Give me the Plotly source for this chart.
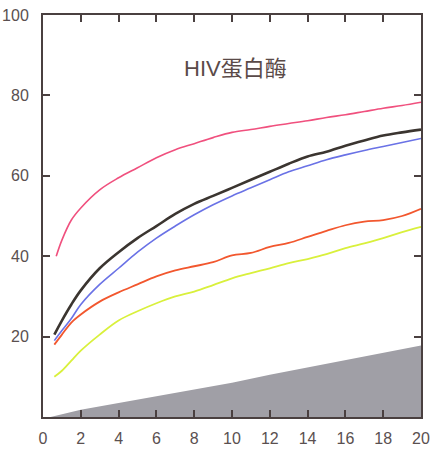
import plotly.graph_objects as go

# Data
x_pink = [0.7, 1, 1.5, 2, 3, 4, 5, 6, 7, 8, 9, 10, 11, 12, 13, 14, 15, 16, 17, 18, 19, 20]
y_pink = [40, 44, 49, 52, 56.5, 59.5, 62, 64.5, 66.5, 68, 69.5, 70.8, 71.5, 72.3, 73, 73.7, 74.5, 75.2, 76, 76.8, 77.5, 78.3]

x_common = [0.6, 1, 1.5, 2, 3, 4, 5, 6, 7, 8, 9, 10, 11, 12, 13, 14, 15, 16, 17, 18, 19, 20]
y_black = [20.5, 24, 28, 31.5, 37, 41, 44.5, 47.5, 50.5, 53, 55, 57, 59, 61, 63, 64.8, 66, 67.5, 68.8, 70, 70.8, 71.5]
y_blue = [19, 21.5, 24.5, 28, 33, 37, 41, 44.5, 47.5, 50.3, 52.8, 55, 57, 59, 61, 62.5, 64, 65.2, 66.3, 67.3, 68.3, 69.3]
y_orange = [18, 20.5, 23.5, 25.5, 28.7, 31, 33, 35, 36.5, 37.5, 38.5, 40.2, 40.8, 42.3, 43.3, 44.8, 46.3, 47.7, 48.6, 49, 50, 51.8]
y_yellow = [10, 11.5, 14, 16.5, 20.5, 24, 26.3, 28.3, 30, 31.2, 32.8, 34.5, 35.8, 37, 38.3, 39.3, 40.5, 42, 43.2, 44.5, 46, 47.3]

x_wedge = [0.4, 2, 4, 6, 8, 10, 12, 14, 16, 18, 20]
y_wedge = [0, 1.8, 3.5, 5.2, 6.8, 8.5, 10.5, 12.3, 14.2, 16, 17.8]

x_ticks = [0, 2, 4, 6, 8, 10, 12, 14, 16, 18, 20]
y_ticks = [20, 40, 60, 80, 100]
title_text = "HIV蛋白酶"

fig = go.Figure()
fig.add_trace(go.Scatter(x=x_wedge, y=y_wedge, mode="lines", fill="tozeroy",
                         line=dict(color="#a09fa6", width=0), fillcolor="#a09fa6",
                         hoverinfo="skip"))
fig.add_trace(go.Scatter(x=x_pink, y=y_pink, mode="lines", line=dict(color="#f0507e", width=1.6, shape="spline")))
fig.add_trace(go.Scatter(x=x_common, y=y_yellow, mode="lines", line=dict(color="#d9f03c", width=1.8, shape="spline")))
fig.add_trace(go.Scatter(x=x_common, y=y_orange, mode="lines", line=dict(color="#f2572e", width=1.8, shape="spline")))
fig.add_trace(go.Scatter(x=x_common, y=y_blue, mode="lines", line=dict(color="#6a72e6", width=1.6, shape="spline")))
fig.add_trace(go.Scatter(x=x_common, y=y_black, mode="lines", line=dict(color="#3b3530", width=2.6, shape="spline")))

fig.add_annotation(x=10.2, y=86.8, xref="x", yref="y", text=title_text, showarrow=False,
                   font=dict(size=22, color="#5a4a48", family="Liberation Sans, Noto Sans CJK SC"))

axis_common = dict(showgrid=False, zeroline=False, showline=True, linecolor="#4a4040", linewidth=2,
                   mirror="ticks", ticks="inside", ticklen=7, tickwidth=1.5, tickcolor="#4a4040",
                   automargin=False,
                   tickfont=dict(size=16, color="#5a5050", family="Liberation Sans, Arial"))

fig.update_xaxes(range=[0, 20], tickvals=x_ticks, ticktext=[str(v) for v in x_ticks],
                 ticklabelstandoff=6, **axis_common)
fig.update_yaxes(range=[0, 100], tickvals=y_ticks, ticktext=[str(v) for v in y_ticks],
                 ticklabelstandoff=9, **axis_common)

fig.update_layout(width=433, height=456, margin=dict(l=43, r=12, t=15, b=39),
                  plot_bgcolor="white", paper_bgcolor="white", showlegend=False)

fig.write_html("out.html")
